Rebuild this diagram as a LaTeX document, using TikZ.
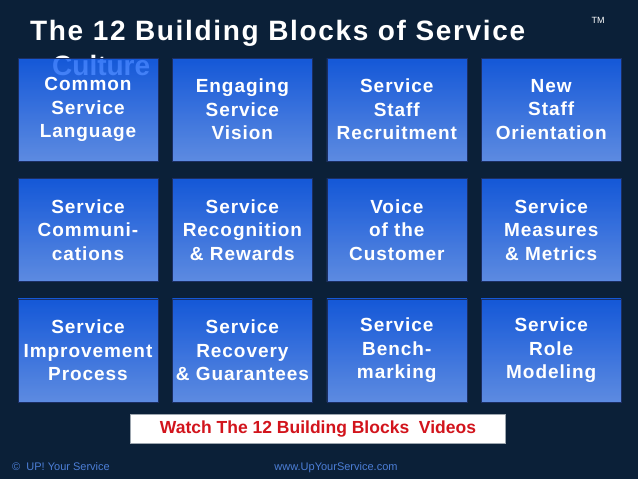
\documentclass[tikz,border=0pt]{standalone}
\usepackage{fontspec}
\setmainfont{Liberation Sans}
\usetikzlibrary{positioning}
\definecolor{navy}{HTML}{0B2038}
\definecolor{blktop}{HTML}{1662F4}
\definecolor{blkbot}{HTML}{6C9EFF}
\definecolor{edge}{HTML}{1B2E63}
\definecolor{watch}{HTML}{D2141C}
\definecolor{foot}{HTML}{4C7ED6}
\newcommand{\blockfont}{\fontsize{19}{23.5}\selectfont\bfseries\addfontfeatures{LetterSpace=5}}
\newcommand{\titlefont}{\fontsize{28}{34}\selectfont\bfseries}
\tikzset{
  block/.style={draw=edge,thin,top color=blktop,bottom color=blkbot,fill opacity=0.85,text opacity=1,
    minimum width=140pt,minimum height=103pt,inner sep=0pt,align=center,text=white,font=\blockfont},
  watchbox/.style={fill=white,draw=navy!40,minimum width=375pt,minimum height=29pt,inner sep=0pt,
    text=watch,font=\fontsize{17.5}{20}\selectfont\bfseries},
  foottxt/.style={text=foot,inner sep=0pt,font=\fontsize{11}{12}\selectfont},
}

\begin{document}
\begin{tikzpicture}[x=1pt,y=-1pt]
  \fill[navy] (0,0) rectangle (638,479);
  \useasboundingbox (0,0) rectangle (638,479);
  % heading (second line sits behind the first row)
  \node[text=white,font=\titlefont\addfontfeatures{LetterSpace=6},anchor=base west,inner sep=0pt] (title) at (30,41) {The 12 Building Blocks of Service};
  \node[text=white,font=\titlefont,anchor=base west,inner sep=0pt] (culture) at (52,75) {Culture};
  \node[text=white,font=\fontsize{9}{10}\selectfont,inner sep=0pt] (tm) at (598,20) {TM};
  % row 1
  \node[block] (b11) at (88,109.5) {Common\\Service\\Language};
  \node[block,right=14pt of b11] (b12) {Engaging\\Service\\Vision};
  \node[block,right=14pt of b12] (b13) {Service\\Staff\\Recruitment};
  \node[block,right=14pt of b13] (b14) {New\\Staff\\Orientation};
  % row 2
  \node[block,below=17pt of b11] (b21) {Service\\Communi-\\cations};
  \node[block,right=14pt of b21] (b22) {Service\\Recognition\\\& Rewards};
  \node[block,right=14pt of b22] (b23) {Voice\\of the\\Customer};
  \node[block,right=14pt of b23] (b24) {Service\\Measures\\\& Metrics};
  % row 3
  \node[block,below=17pt of b21] (b31) {Service\\Improvement\\Process};
  \node[block,right=14pt of b31] (b32) {Service\\Recovery\\\& Guarantees};
  \node[block,right=14pt of b32] (b33) {Service\\Bench-\\marking};
  \node[block,right=14pt of b33] (b34) {Service\\Role\\Modeling};
  % link + footer
  \node[watchbox] (watch) at (318,429) {Watch The 12 Building Blocks\ \ Videos};
  \node[foottxt,anchor=base west] (copy) at (12,470) {\textcopyright\ \ UP! Your Service};
  \node[foottxt,anchor=base] (web) at (336,470) {www.UpYourService.com};
\end{tikzpicture}
\end{document}
